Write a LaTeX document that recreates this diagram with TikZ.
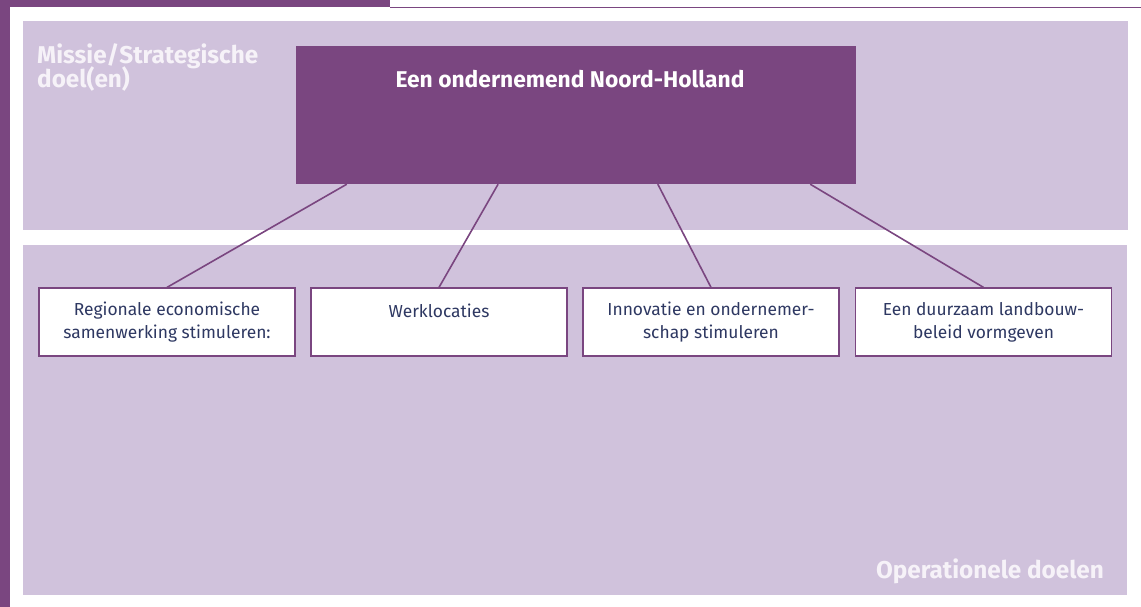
\documentclass[tikz,border=0pt]{standalone}
\usepackage{fontspec}
\setmainfont{Fira Sans}
\usetikzlibrary{calc}
\definecolor{dpurple}{RGB}{122,70,128}
\definecolor{lav}{RGB}{208,194,220}
\definecolor{navy}{RGB}{46,56,98}
\definecolor{paleW}{RGB}{246,242,248}
\tikzset{
  panel/.style={fill=lav, draw=none},
  opbox/.style={draw=dpurple, line width=1.2pt, fill=white, minimum width=256pt, minimum height=68pt,
     align=center, text=navy, font=\fontsize{17.4}{23}\selectfont, inner sep=0pt},
  conn/.style={draw=dpurple, line width=1.6pt},
  headtext/.style={text=paleW, font=\fontsize{24.3}{24}\selectfont\bfseries, inner sep=0pt},
}
\begin{document}
\begin{tikzpicture}[x=1pt,y=-1pt]
\useasboundingbox (0,0) rectangle (1141,607);
\fill[white] (0,0) rectangle (1141,607);
% frame decorations
\fill[dpurple] (0,0) rectangle (10,607);
\fill[dpurple] (0,0) rectangle (390,7.3);
\draw[dpurple, line width=1pt] (390,7.6) -- (1141,7.6);
% panels
\fill[panel] (23,21) rectangle (1128,230);
\fill[panel] (23,245) rectangle (1127,595);
\node[headtext, anchor=base west] (missie1) at (37,64) {Missie/Strategische};
\node[headtext, anchor=base west] (missie2) at (37,88) {doel(en)};
\node[headtext, anchor=base east] (oper) at (1104,578) {Operationele doelen};
% top box
\node[fill=dpurple, minimum width=560pt, minimum height=138pt, inner sep=0pt] (top) at (576,115) {};
\node[text=white, font=\fontsize{22.8}{24}\selectfont\bfseries, anchor=base] (title) at (570,88) {Een ondernemend Noord-Holland};
% operational boxes
\node[opbox] (b1) at (167,322) {Regionale economische\\samenwerking stimuleren:};
\node[opbox] (b2) at (439,322) {Werklocaties\\\mbox{}};
\node[opbox] (b3) at (711,322) {Innovatie en ondernemer-\\schap stimuleren};
\node[opbox] (b4) at (983.5,322) {Een duurzaam landbouw-\\beleid vormgeven};
% connectors
\draw[conn] ($(top.south west)!0.091!(top.south east)$) -- (b1.north);
\draw[conn] ($(top.south west)!0.361!(top.south east)$) -- (b2.north);
\draw[conn] ($(top.south west)!0.646!(top.south east)$) -- (b3.north);
\draw[conn] ($(top.south west)!0.918!(top.south east)$) -- (b4.north);
\end{tikzpicture}
\end{document}
